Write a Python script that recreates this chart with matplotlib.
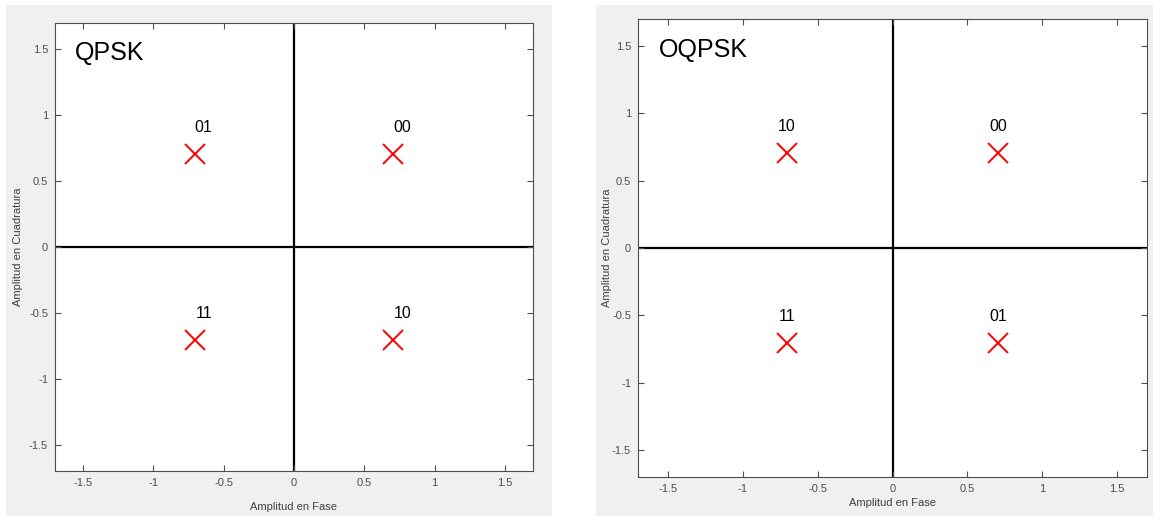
import matplotlib.pyplot as plt
from matplotlib.patches import Rectangle

plt.rcParams['font.family'] = ['Liberation Sans', 'DejaVu Sans']

# constellation points (I, Q) with their bit labels
amp = 0.707
i_vals = [amp, -amp, -amp, amp]
q_vals = [amp, amp, -amp, -amp]
qpsk_bits = ['00', '01', '11', '10']
oqpsk_bits = ['00', '10', '11', '01']

ticks = [-1.5, -1, -0.5, 0, 0.5, 1, 1.5]
tick_labels = ['-1.5', '-1', '-0.5', '0', '0.5', '1', '1.5']
lim = 1.7

W, H = 1153, 516
fig = plt.figure(figsize=(W / 100, H / 100), dpi=100)
fig.patch.set_facecolor('white')

# gray MATLAB-like figure panels (pixel boxes -> figure fraction)
def px_box(x0, y0, x1, y1):
    return [x0 / W, 1 - y1 / H, (x1 - x0) / W, (y1 - y0) / H]

for x0, y0, x1, y1 in [(6, 5, 552, 516), (596, 5, 1153, 516)]:
    b = px_box(x0, y0, x1, y1)
    fig.add_artist(Rectangle((b[0], b[1]), b[2], b[3], transform=fig.transFigure,
                             facecolor='#f0f0f0', edgecolor='none', zorder=0))

panels = [
    ('QPSK', qpsk_bits, (55, 23, 533, 471), 6.5, 537, 18),
    ('OQPSK', oqpsk_bits, (638, 19, 1147, 477), 0, 503, 607),
]

tick_col = '#4d4d4d'
for title, bits, box, dx, xlab_y, ylab_x in panels:
    ax = fig.add_axes(px_box(*box))
    ax.set_facecolor('white')
    ax.axhline(0, color='black', lw=1.6, zorder=1)
    ax.axvline(0, color='black', lw=1.6, zorder=1)
    ax.plot(i_vals, q_vals, 'x', color='red', markersize=14.5, markeredgewidth=1.4,
            linestyle='none', zorder=3)
    for x, y, b in zip(i_vals, q_vals, bits):
        ax.annotate(b, (x, y), xytext=(dx, 19), textcoords='offset points',
                    ha='center', va='center', fontsize=11.5, color='black')
    ax.text(-lim + 0.14, 1.47, title, fontsize=18, ha='left', va='center')
    ax.set_xlim(-lim, lim)
    ax.set_ylim(-lim, lim)
    ax.set_xticks(ticks)
    ax.set_xticklabels(tick_labels)
    ax.set_yticks(ticks)
    ax.set_yticklabels(tick_labels)
    ax.tick_params(direction='in', length=4, width=0.8, colors=tick_col,
                   labelsize=8, top=True, right=True, pad=5)
    for s in ax.spines.values():
        s.set_color(tick_col)
        s.set_linewidth(0.8)
    # axis labels placed in figure pixels
    cx = (box[0] + box[2]) / 2
    cy = (box[1] + box[3]) / 2
    fig.text(cx / W, 1 - xlab_y / H, 'Amplitud en Fase', ha='center', va='center',
             fontsize=8, color='#404040')
    fig.text(ylab_x / W, 1 - cy / H, 'Amplitud en Cuadratura', ha='center', va='center',
             rotation=90, fontsize=8, color='#404040')

# left xlabel sits a bit lower than the right one
fig.texts[0].set_y(1 - 507 / H)

fig.savefig('out.png', dpi=100)
